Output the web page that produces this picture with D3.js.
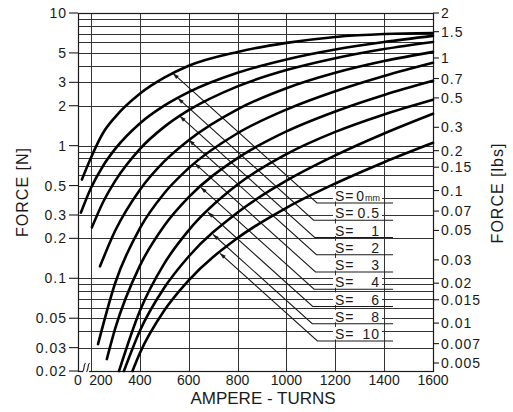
<!DOCTYPE html>
<html>
<head>
<meta charset="utf-8">
<script src="https://cdn.jsdelivr.net/npm/d3@7/dist/d3.min.js"></script>
<style>
html,body{margin:0;padding:0;background:#fff;}
svg{display:block;font-family:"Liberation Sans",Arial,sans-serif;}
</style>
</head>
<body>
<svg id="chart" width="513" height="412"></svg>
<script>
// ---------------- data ----------------
const xTicks = [200, 400, 600, 800, 1000, 1200, 1400, 1600];
const xTickLabels = ["200", "400", "600", "800", "1000", "1200", "1400", "1600"];
const leftTicks = [10, 5, 3, 2, 1, 0.5, 0.3, 0.2, 0.1, 0.05, 0.03, 0.02];
const leftTickLabels = ["10", "5", "3", "2", "1", "0.5", "0.3", "0.2", "0.1", "0.05", "0.03", "0.02"];
const rightTicks = [2, 1.5, 1, 0.7, 0.5, 0.3, 0.2, 0.15, 0.1, 0.07, 0.05, 0.03, 0.02, 0.015, 0.01, 0.007, 0.005];
const rightTickLabels = ["2", "1.5", "1", "0.7", "0.5", "0.3", "0.2", "0.15", "0.1", "0.07", "0.05", "0.03", "0.02", "0.015", "0.01", "0.007", "0.005"];
const gridN = [10, 9, 8, 7, 6, 5, 4, 3, 2, 1, 0.9, 0.8, 0.7, 0.6, 0.5, 0.4, 0.3, 0.2,
               0.1, 0.09, 0.08, 0.07, 0.06, 0.05, 0.04, 0.03, 0.02];
const gapLabels = ["0", "0.5", "1", "2", "3", "4", "6", "8", "10"];

// [ampere-turns, force N]
const s0  = [[163,0.555],[200,0.81],[250,1.25],[300,1.65],[400,2.46],[500,3.25],[600,4.0],[800,5.09],[1000,5.95],[1200,6.6],[1400,6.95],[1600,7.07]];
const s05 = [[159,0.313],[200,0.479],[250,0.706],[300,0.949],[400,1.47],[500,2.0],[600,2.53],[800,3.54],[1000,4.46],[1200,5.3],[1400,6.04],[1600,6.72]];
const s1  = [[204,0.242],[250,0.376],[300,0.545],[400,0.943],[500,1.385],[600,1.85],[800,2.8],[1000,3.71],[1200,4.56],[1400,5.35],[1600,6.05]];
const s2  = [[237,0.123],[300,0.23],[400,0.464],[500,0.761],[600,1.10],[800,1.88],[1000,2.71],[1200,3.54],[1400,4.34],[1600,5.09]];
const s3  = [[229,0.0319],[300,0.093],[400,0.238],[500,0.438],[600,0.677],[800,1.24],[1000,1.87],[1200,2.57],[1400,3.35],[1600,4.21]];
const s4  = [[265,0.0246],[300,0.0422],[400,0.124],[500,0.249],[600,0.409],[800,0.805],[1000,1.28],[1200,1.81],[1400,2.41],[1600,3.08]];
const s6  = [[315,0.02],[400,0.0566],[500,0.129],[600,0.23],[800,0.509],[1000,0.863],[1200,1.27],[1400,1.72],[1600,2.22]];
const s8  = [[335,0.02],[400,0.0401],[500,0.0848],[600,0.146],[800,0.313],[1000,0.544],[1200,0.844],[1400,1.235],[1600,1.74]];
const s10 = [[370,0.02],[400,0.0272],[500,0.0571],[600,0.0964],[800,0.201],[1000,0.34],[1200,0.518],[1400,0.75],[1600,1.05]];
const seriesList = [s0, s05, s1, s2, s3, s4, s6, s8, s10];
// ampere-turns where each label's leader arrow touches its curve
const arrowAT = [536, 556, 564, 601, 626, 650, 679, 700, 728];

// ---------------- scales ----------------
const svg = d3.select("#chart");
const x = d3.scaleLinear().domain([0, 147, 1600]).range([78, 78, 433]);
const y = d3.scaleLog().domain([0.02, 10]).range([371, 13]);
const yR = d3.scaleLog().domain([0.005, 1, 2]).range([363, 58, 13]);
const X0 = 78, X1 = 433, Y0 = 13, Y1 = 371;
const ink = "#1a1a1a";

// ---------------- grid ----------------
const g = svg.append("g");
g.selectAll("line.h").data(gridN).enter().append("line")
  .attr("x1", X0).attr("x2", X1)
  .attr("y1", d => Math.round(y(d)) + 0.5).attr("y2", d => Math.round(y(d)) + 0.5)
  .attr("stroke", "#333").attr("stroke-width", 1);
g.selectAll("line.v").data(xTicks).enter().append("line")
  .attr("x1", d => Math.round(x(d)) + 0.5).attr("x2", d => Math.round(x(d)) + 0.5)
  .attr("y1", Y0).attr("y2", Y1)
  .attr("stroke", "#333").attr("stroke-width", 1);
// frame
g.append("rect").attr("x", X0 + 0.5).attr("y", Y0 + 0.5).attr("width", X1 - X0).attr("height", Y1 - Y0)
  .attr("fill", "none").attr("stroke", ink).attr("stroke-width", 1.2);

// axis break on the bottom edge
svg.append("rect").attr("x", 83).attr("y", 368).attr("width", 6).attr("height", 6).attr("fill", "#fff");
svg.append("path").attr("d", "M82.5,372 C85,369 83,366 85.5,363 M86.5,372 C89,369 87,366 89.5,363")
  .attr("fill", "none").attr("stroke", ink).attr("stroke-width", 1.1);

// ---------------- axes ----------------
const fontTick = 14;
// left
const la = svg.append("g");
la.selectAll("line").data(leftTicks).enter().append("line")
  .attr("x1", 69).attr("x2", X0).attr("y1", d => y(d)).attr("y2", d => y(d))
  .attr("stroke", ink).attr("stroke-width", 1.1);
la.selectAll("text").data(leftTicks).enter().append("text")
  .attr("x", 67).attr("y", d => y(d)).attr("dy", "0.36em")
  .attr("text-anchor", "end").attr("font-size", fontTick).attr("letter-spacing", 1).attr("fill", ink)
  .text((d, i) => leftTickLabels[i]);
// right
const ra = svg.append("g");
ra.selectAll("line").data(rightTicks).enter().append("line")
  .attr("x1", X1).attr("x2", 439).attr("y1", d => yR(d)).attr("y2", d => yR(d))
  .attr("stroke", ink).attr("stroke-width", 1.1);
ra.selectAll("text").data(rightTicks).enter().append("text")
  .attr("x", 441).attr("y", d => yR(d)).attr("dy", "0.36em")
  .attr("text-anchor", "start").attr("font-size", fontTick).attr("letter-spacing", 1).attr("fill", ink)
  .text((d, i) => rightTickLabels[i]);
// bottom
const ba = svg.append("g");
ba.append("text").attr("x", X0).attr("y", 385).attr("text-anchor", "middle")
  .attr("font-size", fontTick).attr("fill", ink).text("0");
ba.selectAll("text.t").data(xTicks).enter().append("text")
  .attr("x", (d, i) => i === 0 ? x(d) + 10 : x(d)).attr("y", 385)
  .attr("text-anchor", "middle").attr("font-size", fontTick).attr("fill", ink)
  .text((d, i) => xTickLabels[i]);

// titles
svg.append("text").attr("x", 263).attr("y", 404).attr("text-anchor", "middle")
  .attr("font-size", 17).attr("fill", ink).text("AMPERE - TURNS");
svg.append("text").attr("transform", "translate(22,192) rotate(-90)").attr("text-anchor", "middle")
  .attr("dy", "0.35em").attr("font-size", 16).attr("letter-spacing", 1).attr("fill", ink).text("FORCE [N]");
svg.append("text").attr("transform", "translate(497,193) rotate(-90)").attr("text-anchor", "middle")
  .attr("dy", "0.35em").attr("font-size", 16).attr("letter-spacing", 1).attr("fill", ink).text("FORCE [lbs]");

// ---------------- labels & leaders ----------------
function pointAt(series, v) {
  for (let i = 0; i < series.length - 1; i++) {
    const a = series[i], b = series[i + 1];
    if (v >= a[0] && v <= b[0]) {
      const t = (v - a[0]) / (b[0] - a[0]);
      const la = Math.log10(a[1]), lb = Math.log10(b[1]);
      return [x(v), y(Math.pow(10, la + t * (lb - la)))];
    }
  }
  const l = series[series.length - 1];
  return [x(l[0]), y(l[1])];
}
const lab = svg.append("g");
const slope = 0.9;
gapLabels.forEach((s, i) => {
  const ul = 203 + i * 17.25;
  const tip = pointAt(seriesList[i], arrowAT[i]);
  const bendX = tip[0] + (ul - tip[1]) / slope;
  // white patch under the label text
  lab.append("rect").attr("x", 333).attr("y", ul - 14).attr("width", 49).attr("height", 12.5).attr("fill", "#fff");
  lab.append("path").attr("d", `M${tip[0]},${tip[1]} L${bendX},${ul} L393,${ul}`)
    .attr("fill", "none").attr("stroke", ink).attr("stroke-width", 1.1);
  // arrow head pointing to the curve
  const dx = tip[0] - bendX, dy = tip[1] - ul, len = Math.hypot(dx, dy);
  const ux = dx / len, uy = dy / len;
  const bx = tip[0] - ux * 6, by = tip[1] - uy * 6;
  lab.append("path").attr("d", `M${tip[0]},${tip[1]} L${bx - uy * 2},${by + ux * 2} L${bx + uy * 2},${by - ux * 2} Z`)
    .attr("fill", ink);
  lab.append("text").attr("x", 335).attr("y", ul - 2).attr("font-size", 14).attr("letter-spacing", 1)
    .attr("fill", ink).text("S=");
  const t = lab.append("text").attr("x", 380).attr("y", ul - 2).attr("font-size", 14).attr("letter-spacing", 1)
    .attr("text-anchor", "end").attr("fill", ink).text(s);
  if (i === 0) t.append("tspan").attr("font-size", 9).attr("letter-spacing", 0).text("mm");
});

// ---------------- curves ----------------
const line = d3.line().x(d => x(d[0])).y(d => y(d[1])).curve(d3.curveMonotoneX);
svg.append("g").selectAll("path").data(seriesList).enter().append("path")
  .attr("d", line).attr("fill", "none").attr("stroke", "#000").attr("stroke-width", 2.6)
  .attr("stroke-linecap", "round");
</script>
</body>
</html>
